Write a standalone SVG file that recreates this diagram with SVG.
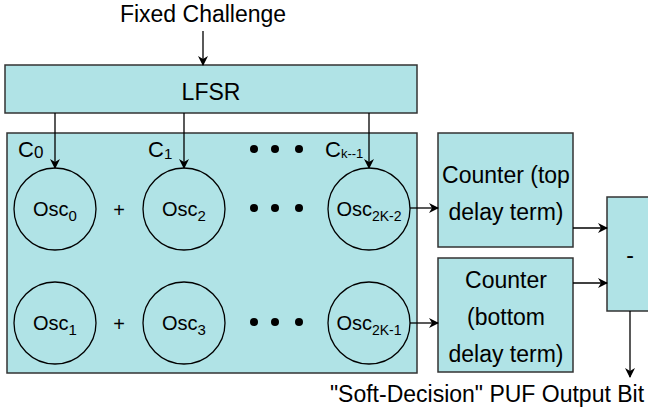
<svg xmlns="http://www.w3.org/2000/svg" width="648" height="414" viewBox="0 0 648 414">
<defs>
<marker id="ah" viewBox="0 0 10 10" refX="9" refY="5" markerWidth="10" markerHeight="10" markerUnits="userSpaceOnUse" orient="auto">
<path d="M0,0 L10,5 L0,10 L3,5 Z" fill="#000"/>
</marker>
<style>
.box{fill:#b0e3e6;stroke:#333;stroke-width:1.5}
.osc{fill:none;stroke:#000;stroke-width:1.3}
.t{font-family:"Liberation Sans",Arial,sans-serif;font-size:23px;fill:#000;text-anchor:middle}
.o{font-family:"Liberation Sans",Arial,sans-serif;font-size:20px;fill:#000;text-anchor:middle}
.l{font-family:"Liberation Sans",Arial,sans-serif;font-size:22px;fill:#000}
.e{fill:none;stroke:#000;stroke-width:1.3;marker-end:url(#ah)}
.dot{fill:#000}
</style>
</defs>
<rect width="648" height="414" fill="#fff"/>

<text class="t" x="203" y="22">Fixed Challenge</text>

<g id="lfsr">
<rect class="box" x="5" y="65" width="412" height="48"/>
<text class="t" x="211" y="100">LFSR</text>
</g>

<g id="array">
<rect class="box" x="7" y="133" width="410" height="240"/>
<text class="l" x="18" y="157">C<tspan font-size="17" dy="1">0</tspan></text>
<text class="l" x="148" y="157">C<tspan font-size="15" dy="2">1</tspan></text>
<text class="l" x="325" y="157">C<tspan font-size="13" dy="1">k--1</tspan></text>
<text class="o" x="119" y="217">+</text>
<text class="o" x="119" y="331">+</text>
<circle class="dot" cx="254" cy="149" r="4"/><circle class="dot" cx="275" cy="149" r="4"/><circle class="dot" cx="299" cy="149" r="4"/>
<circle class="dot" cx="254" cy="208" r="4"/><circle class="dot" cx="275" cy="208" r="4"/><circle class="dot" cx="299" cy="208" r="4"/>
<circle class="dot" cx="254" cy="322" r="4"/><circle class="dot" cx="275" cy="322" r="4"/><circle class="dot" cx="299" cy="322" r="4"/>
</g>

<g id="osc0"><circle class="osc" cx="55" cy="209" r="41"/><text class="o" x="55" y="216">Osc<tspan font-size="15" dy="5">0</tspan></text></g>
<g id="osc2"><circle class="osc" cx="184" cy="209" r="41"/><text class="o" x="184" y="216">Osc<tspan font-size="15" dy="5">2</tspan></text></g>
<g id="osc2k2"><circle class="osc" cx="369" cy="209" r="41"/><text class="o" x="369" y="216">Osc<tspan font-size="14" dy="5">2K-2</tspan></text></g>
<g id="osc1"><circle class="osc" cx="55" cy="323" r="41"/><text class="o" x="55" y="330">Osc<tspan font-size="15" dy="5">1</tspan></text></g>
<g id="osc3"><circle class="osc" cx="184" cy="323" r="41"/><text class="o" x="184" y="330">Osc<tspan font-size="15" dy="5">3</tspan></text></g>
<g id="osc2k1"><circle class="osc" cx="369" cy="323" r="41"/><text class="o" x="369" y="330">Osc<tspan font-size="14" dy="5">2K-1</tspan></text></g>

<g id="counterTop">
<rect class="box" x="438" y="133" width="135" height="114"/>
<text class="t" x="506" y="183">Counter (top</text>
<text class="t" x="506" y="220">delay term)</text>
</g>
<g id="counterBottom">
<rect class="box" x="438" y="258" width="135" height="114"/>
<text class="t" x="506" y="288">Counter</text>
<text class="t" x="506" y="325">(bottom</text>
<text class="t" x="506" y="362">delay term)</text>
</g>
<g id="minus">
<rect class="box" x="607" y="197" width="60" height="114"/>
<text class="t" x="630" y="263">-</text>
</g>

<text class="t" x="487" y="402">"Soft-Decision" PUF Output Bit</text>

<g id="connectors">
<line class="e" x1="203" y1="31" x2="203" y2="65"/>
<line class="e" x1="55" y1="113" x2="55" y2="168"/>
<line class="e" x1="184" y1="113" x2="184" y2="168"/>
<line class="e" x1="369" y1="113" x2="369" y2="168"/>
<line class="e" x1="410" y1="208" x2="438" y2="208"/>
<line class="e" x1="410" y1="323" x2="438" y2="323"/>
<line class="e" x1="573" y1="228" x2="607" y2="228"/>
<line class="e" x1="573" y1="283" x2="607" y2="283"/>
<line class="e" x1="630" y1="311" x2="630" y2="377"/>
</g>
</svg>
